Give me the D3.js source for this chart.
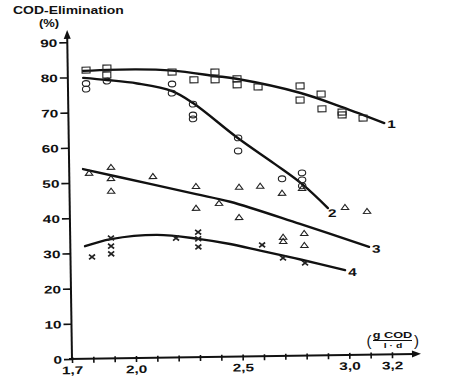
<!DOCTYPE html>
<html><head><meta charset="utf-8">
<script src="https://cdn.jsdelivr.net/npm/d3@7"></script>
<style>body{margin:0;background:#fff}</style>
</head><body>
<svg id="c" width="470" height="388"></svg>
<script>
// ---- data ----
const yTicks = [0,10,20,30,40,50,60,70,80,90];
const xTicks = [1.7,1.8,1.9,2.0,2.1,2.2,2.3,2.4,2.5,2.6,2.7,2.8,2.9,3.0,3.1,3.2];
const xLabelValues = [1.7,2.0,2.5,3.0,3.2];
const xLabelTexts = ["1,7","2,0","2,5","3,0","3,2"];
const curveNames = ["1","2","3","4"];

const squares = [[1.786,82.0],[1.884,82.5],[1.883,80.5],[2.189,81.1],[2.291,78.8],[2.39,80.9],[2.39,78.7],[2.493,78.9],[2.493,77.2],[2.591,76.5],[2.788,76.6],[2.787,72.6],[2.886,74.2],[2.889,70.0],[2.983,69.0],[2.983,68.2],[3.081,67.2]];
const circles = [[1.785,78.2],[1.785,76.6],[1.883,78.8],[2.188,77.7],[2.187,75.1],[2.285,71.9],[2.284,68.8],[2.284,67.7],[2.494,62.1],[2.493,58.4],[2.697,50.3],[2.791,51.9],[2.791,49.9],[2.791,48.2]];
const triangles = [[1.793,52.8],[1.896,54.4],[1.895,51.2],[1.895,47.6],[2.092,51.6],[2.293,48.6],[2.292,42.4],[2.40,43.7],[2.495,48.2],[2.493,39.6],[2.594,48.4],[2.696,46.3],[2.79,47.6],[2.99,42.0],[3.093,40.8],[2.698,33.8],[2.698,32.6],[2.797,34.8],[2.797,31.4]];
const crosses = [[1.801,28.9],[1.891,34.2],[1.891,31.9],[1.891,29.7],[2.196,33.9],[2.30,35.5],[2.30,33.6],[2.30,31.3],[2.599,31.6],[2.696,27.8],[2.799,26.3]];

const curve1 = [[1.772,81.8],[2.02,82.0],[2.19,81.5],[2.39,79.8],[2.49,78.9],[2.79,74.6],[2.98,70.5],[3.18,65.7]];
const curve2 = [[1.772,79.8],[1.883,79.1],[2.025,78.0],[2.188,75.7],[2.285,72.2],[2.494,62.0],[2.665,54.5],[2.791,48.7],[2.91,41.8]];
const curve3 = [[1.765,53.9],[2.078,49.4],[2.293,46.3],[2.452,44.0],[2.778,37.4],[3.10,30.6]];
const curve4 = [[1.769,32.0],[1.891,33.9],[2.107,34.9],[2.30,33.6],[2.449,32.0],[2.59,30.0],[2.778,27.3],[2.986,24.1]];

// ---- setup ----
const FONT = "'Liberation Sans', Arial, sans-serif";
const SX = 1.4;
const svg = d3.select('#c');
svg.append('rect').attr('width',470).attr('height',388).attr('fill','#fff');

const x = d3.scaleLinear().domain([1.7,3.2]).range([72,392]);
const y = d3.scaleLinear().domain([0,90]).range([359,42.2]);

const g = svg.append('g').attr('transform','rotate(-0.85 72 359)');

function stext(parent, tx, ty, str, size, sx, anchor, weight){
  return parent.append('text')
    .attr('transform',`translate(${tx},${ty}) scale(${sx},1)`)
    .attr('text-anchor',anchor||'start')
    .attr('font-family',FONT).attr('font-size',size)
    .attr('font-weight',weight||'bold').attr('fill','#111')
    .text(str);
}

// y axis ticks
const yAxis = d3.axisLeft(y).tickValues(yTicks).tickSize(8).tickPadding(2).tickFormat(d3.format('d'));
const ya = g.append('g').attr('transform',`translate(${x(1.7)},0)`).call(yAxis);
ya.select('.domain').remove();
ya.selectAll('.tick line').attr('stroke','#111').attr('stroke-width',1.6);
ya.selectAll('.tick text')
  .attr('x',0).attr('dy',null).attr('y',4)
  .attr('transform',`translate(-10,0) scale(${SX},1)`)
  .attr('font-family',FONT).attr('font-size',11).attr('font-weight','bold').attr('fill','#111');

// x axis ticks
const xAxis = d3.axisBottom(x).tickValues(xTicks).tickSize(4).tickPadding(0)
  .tickFormat(d => { const i = xLabelValues.findIndex(v => Math.abs(v-d)<1e-6); return i>=0 ? xLabelTexts[i] : ''; });
const xa = g.append('g').attr('transform',`translate(0,${y(0)})`).call(xAxis);
xa.select('.domain').remove();
xa.selectAll('.tick line').attr('y1',-2).attr('stroke','#111').attr('stroke-width',1.6);
xa.selectAll('.tick text')
  .attr('y',15).attr('dy',null)
  .attr('transform',`scale(${SX},1)`)
  .attr('font-family',FONT).attr('font-size',11).attr('font-weight','bold').attr('fill','#111');

// axis lines with arrows
const ax0 = x(1.7), ay0 = y(0);
const yTop = y(93.5), xEnd = x(3.336);
g.append('line').attr('x1',ax0).attr('x2',ax0).attr('y1',ay0+1).attr('y2',yTop+6)
  .attr('stroke','#111').attr('stroke-width',2);
g.append('path').attr('d',`M${ax0},${yTop}L${ax0-3.5},${yTop+9}L${ax0+3.5},${yTop+9}Z`).attr('fill','#111');
g.append('line').attr('x1',ax0-3).attr('x2',xEnd-6).attr('y1',ay0).attr('y2',ay0)
  .attr('stroke','#111').attr('stroke-width',2);
g.append('path').attr('d',`M${xEnd},${ay0}L${xEnd-9},${ay0-3.5}L${xEnd-9},${ay0+3.5}Z`).attr('fill','#111');

// curves
const line = d3.line().x(d=>x(d[0])).y(d=>y(d[1])).curve(d3.curveCatmullRom.alpha(0.5));
const curves = [curve1,curve2,curve3,curve4];
const labelOff = [[3,5],[0,9],[3,6],[3,6]];
curves.forEach((c,i)=>{
  g.append('path').attr('d',line(c)).attr('fill','none').attr('stroke','#111')
    .attr('stroke-width',2.4).attr('stroke-linecap','round');
  const last = c[c.length-1];
  stext(g, x(last[0])+labelOff[i][0], y(last[1])+labelOff[i][1], curveNames[i], 11, SX, 'start');
});

// markers
const mk = g.append('g').attr('fill','none').attr('stroke','#222').attr('stroke-width',1.1);
mk.selectAll('rect.sq').data(squares).join('rect').attr('class','sq')
  .attr('x',d=>x(d[0])-4).attr('y',d=>y(d[1])-3).attr('width',8).attr('height',6);
mk.selectAll('ellipse.ci').data(circles).join('ellipse').attr('class','ci')
  .attr('cx',d=>x(d[0])).attr('cy',d=>y(d[1])).attr('rx',3.7).attr('ry',2.9);
mk.selectAll('path.tr').data(triangles).join('path').attr('class','tr')
  .attr('transform',d=>`translate(${x(d[0])},${y(d[1])})`)
  .attr('d','M-3.7,2.4L0,-2.6L3.7,2.4Z');
mk.selectAll('path.cr').data(crosses).join('path').attr('class','cr')
  .attr('transform',d=>`translate(${x(d[0])},${y(d[1])})`)
  .attr('d','M-3,-2.4L3,2.4M-3,2.4L3,-2.4').attr('stroke-width',1.7);

// titles (outside rotation)
stext(svg, 13, 13.5, 'COD-Elimination', 10.5, 1.33, 'start');
stext(svg, 39, 26.5, '(%)', 10, 1.3, 'start');

// unit label
stext(svg, 366.5, 346, '(', 15, 1, 'start', 'normal');
stext(svg, 419, 346, ')', 15, 1, 'end', 'normal');
stext(svg, 392.5, 338, 'g COD', 8.5, 1.5, 'middle');
svg.append('line').attr('x1',373).attr('x2',412).attr('y1',340.5).attr('y2',340.5).attr('stroke','#111').attr('stroke-width',1);
stext(svg, 393, 348, 'l · d', 8, 1.3, 'middle');
</script>
</body></html>
